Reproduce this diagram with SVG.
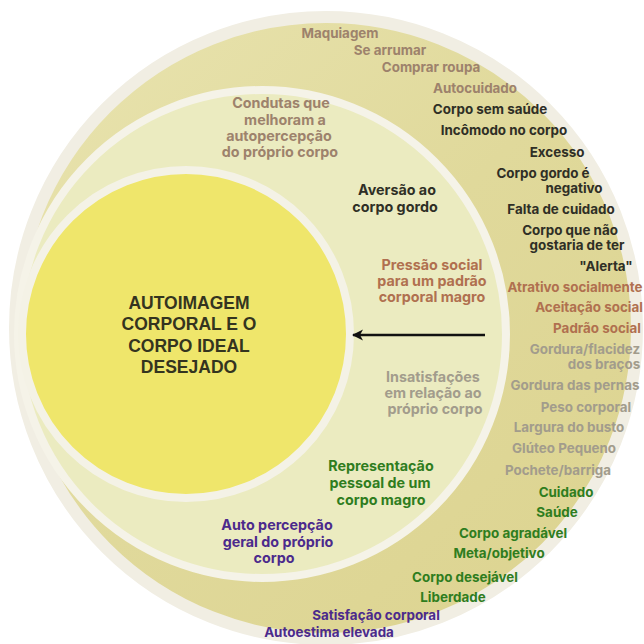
<svg xmlns="http://www.w3.org/2000/svg" width="644" height="644" viewBox="0 0 644 644">
  <defs>
    <linearGradient id="olive" x1="0" y1="0" x2="1" y2="1">
      <stop offset="0" stop-color="#e9e4b0"/>
      <stop offset="0.5" stop-color="#e0d99b"/>
      <stop offset="1" stop-color="#dcd38f"/>
    </linearGradient>
    <marker id="arrowhead" viewBox="0 0 12 12" refX="10" refY="6" markerWidth="12" markerHeight="12" orient="auto" markerUnits="userSpaceOnUse">
      <path d="M0,0.5 L11,6 L0,11.5 L3,6 Z" fill="#111"/>
    </marker>
  </defs>
  <style>
    text { font-family: Inter, Roboto, "Liberation Sans", Arial, sans-serif; font-weight: 700; font-size: 13.4px; text-anchor: middle; }
    .beige { fill: #9d826c; }
    .dark { fill: #2f2f26; }
    .rust { fill: #b0704f; }
    .gray { fill: #a29c8c; }
    .green { fill: #2f7d1e; }
    .purple { fill: #4b2a8c; }
    .ring { font-size: 14.3px; }
    .core { font-family: "Liberation Sans", Arial, sans-serif; font-size: 17.5px; fill: #34341f; }
  </style>

  <rect width="644" height="644" fill="#ffffff"/>

  <!-- outer ring: behaviours, perceptions and values -->
  <g id="outer-ring">
    <circle cx="326" cy="328" r="311" fill="url(#olive)" stroke="#f1eee3" stroke-width="12"/>
    <text class="beige" x="340" y="38">Maquiagem</text>
    <text class="beige" x="390" y="55">Se arrumar</text>
    <text class="beige" x="431" y="72">Comprar roupa</text>
    <text class="beige" x="475" y="93">Autocuidado</text>
    <text class="dark" x="490" y="114">Corpo sem saúde</text>
    <text class="dark" x="504" y="135">Incômodo no corpo</text>
    <text class="dark" x="557" y="157">Excesso</text>
    <text class="dark" x="543" y="178">Corpo gordo é</text>
    <text class="dark" x="574" y="193">negativo</text>
    <text class="dark" x="561" y="214">Falta de cuidado</text>
    <text class="dark" x="570" y="235">Corpo que não</text>
    <text class="dark" x="577" y="250">gostaria de ter</text>
    <text class="dark" x="606" y="271">"Alerta"</text>
    <text class="rust" x="575" y="292">Atrativo socialmente</text>
    <text class="rust" x="589" y="312">Aceitação social</text>
    <text class="rust" x="597" y="333">Padrão social</text>
    <text class="gray" x="585" y="354">Gordura/flacidez</text>
    <text class="gray" x="604" y="369">dos braços</text>
    <text class="gray" x="575" y="390">Gordura das pernas</text>
    <text class="gray" x="586" y="412">Peso corporal</text>
    <text class="gray" x="569" y="432">Largura do busto</text>
    <text class="gray" x="564" y="453">Glúteo Pequeno</text>
    <text class="gray" x="558" y="475">Pochete/barriga</text>
    <text class="green" x="566" y="497">Cuidado</text>
    <text class="green" x="557" y="517">Saúde</text>
    <text class="green" x="513" y="538">Corpo agradável</text>
    <text class="green" x="499" y="558">Meta/objetivo</text>
    <text class="green" x="465" y="582">Corpo desejável</text>
    <text class="green" x="453" y="602">Liberdade</text>
    <text class="purple" x="376" y="620">Satisfação corporal</text>
    <text class="purple" x="329" y="637">Autoestima elevada</text>
  </g>

  <!-- middle ring: categories -->
  <g id="middle-ring">
    <circle cx="262" cy="334" r="244" fill="#ebebc0" stroke="#f5f3e8" stroke-width="8"/>
    <text class="beige ring" x="281" y="108">Condutas que</text>
    <text class="beige ring" x="285" y="125">melhoram a</text>
    <text class="beige ring" x="279" y="141">autopercepção</text>
    <text class="beige ring" x="280" y="157">do próprio corpo</text>
    <text class="dark ring" x="397" y="195">Aversão ao</text>
    <text class="dark ring" x="395" y="212">corpo gordo</text>
    <text class="rust ring" x="432" y="270">Pressão social</text>
    <text class="rust ring" x="432" y="286">para um padrão</text>
    <text class="rust ring" x="432" y="302">corporal magro</text>
    <text class="gray ring" x="433" y="382">Insatisfações</text>
    <text class="gray ring" x="433" y="398">em relação ao</text>
    <text class="gray ring" x="435" y="414">próprio corpo</text>
    <text class="green ring" x="381" y="471">Representação</text>
    <text class="green ring" x="380" y="488">pessoal de um</text>
    <text class="green ring" x="381" y="505">corpo magro</text>
    <text class="purple ring" x="277" y="530">Auto percepção</text>
    <text class="purple ring" x="278" y="547">geral do próprio</text>
    <text class="purple ring" x="274" y="563">corpo</text>
  </g>

  <!-- core: central theme -->
  <g id="core">
    <circle cx="186" cy="334" r="164" fill="#efe66b" stroke="#f4f2e6" stroke-width="8"/>
    <text class="core" x="189" y="309">AUTOIMAGEM</text>
    <text class="core" x="189" y="330">CORPORAL E O</text>
    <text class="core" x="189" y="352">CORPO IDEAL</text>
    <text class="core" x="189" y="373">DESEJADO</text>
  </g>

  <!-- connector pointing into the core -->
  <g id="connectors">
    <line x1="485" y1="335" x2="353" y2="335" stroke="#111" stroke-width="2.5" marker-end="url(#arrowhead)"/>
  </g>
</svg>
